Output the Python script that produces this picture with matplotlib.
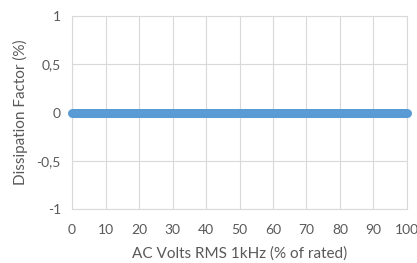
import matplotlib
matplotlib.use("Agg")
import matplotlib.pyplot as plt

# ── data ──
volts_pct = [0, 10, 20, 30, 40, 50, 60, 70, 80, 90, 100]
dissipation = [0, 0, 0, 0, 0, 0, 0, 0, 0, 0, 0]
y_ticks = [-1, -0.5, 0, 0.5, 1]
y_labels = ["-1", "-0,5", "0", "0,5", "1"]
x_ticks = [0, 10, 20, 30, 40, 50, 60, 70, 80, 90, 100]

plt.rcParams["font.family"] = ["Lato", "DejaVu Sans"]

fig = plt.figure(figsize=(4.17, 2.63), dpi=100)
ax = fig.add_axes([0.1727, 0.205, 0.8033, 0.734])

ax.plot(volts_pct, dissipation, color="#5B9BD5", linewidth=6.5,
        solid_capstyle="round", zorder=3, clip_on=False)

ax.set_xlim(0, 100)
ax.set_ylim(-1, 1)
ax.set_xticks(x_ticks)
ax.set_yticks(y_ticks)
ax.set_yticklabels(y_labels)
ax.grid(True, color="#D9D9D9", linewidth=0.8)
for s in ax.spines.values():
    s.set_color("#D9D9D9")
    s.set_linewidth(0.8)
ax.tick_params(axis="x", length=0, labelsize=10, colors="#595959", pad=11)
ax.tick_params(axis="y", length=0, labelsize=10, colors="#595959", pad=8)
ax.set_xlabel("AC Volts RMS 1kHz (% of rated)", fontsize=11, color="#595959", labelpad=7)
ax.set_ylabel("Dissipation Factor (%)", fontsize=11, color="#595959", labelpad=6)

fig.savefig("out.png", dpi=100)
